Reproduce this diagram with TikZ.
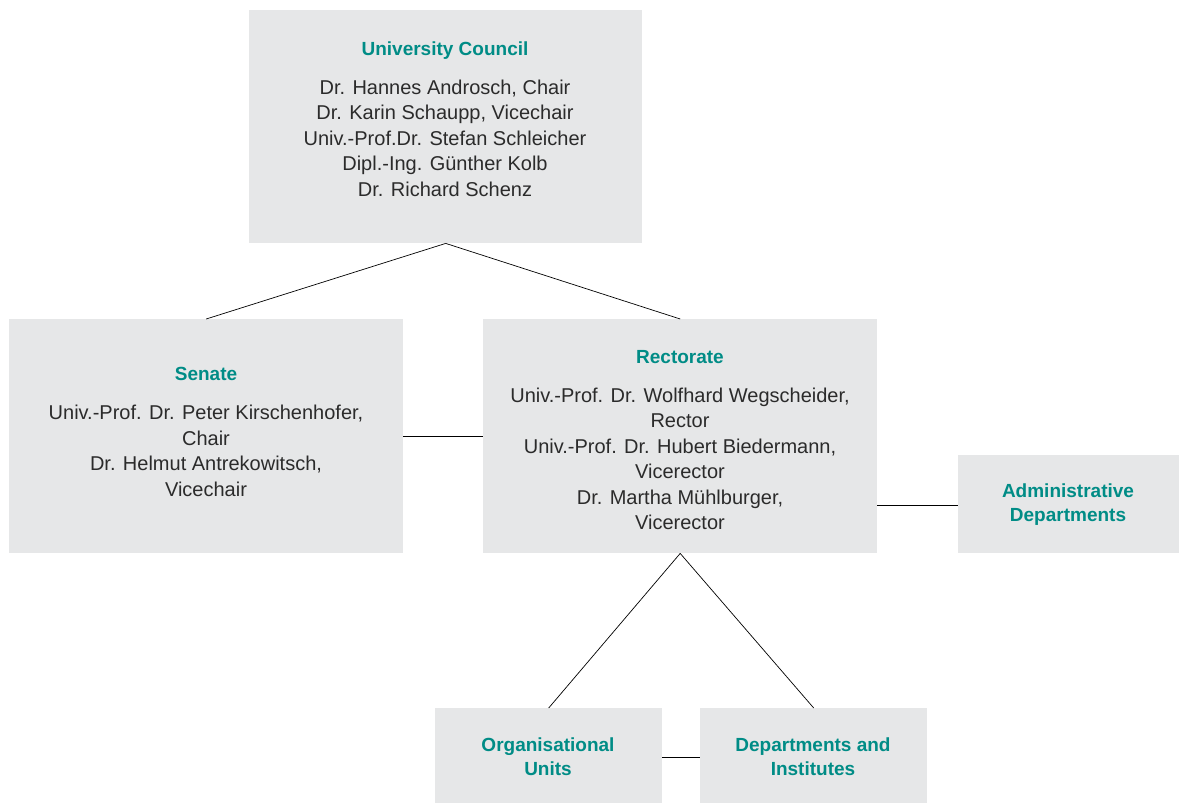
\documentclass[tikz,border=0pt]{standalone}
\usepackage{fontspec}
\setmainfont{Liberation Sans}
\definecolor{boxgray}{HTML}{E6E7E8}
\definecolor{teal}{HTML}{008C86}
\definecolor{bodytext}{HTML}{2B2B2B}
\begin{document}
\begin{tikzpicture}[x=1pt,y=-1pt,
  box/.style={fill=boxgray,draw=none,inner sep=0pt,anchor=north west},
  txt/.style={align=center,text=bodytext,font=\fontsize{20}{25.5}\selectfont,inner sep=0pt},
  ttxt/.style={align=center,text=teal,font=\fontsize{19}{24}\selectfont\bfseries,inner sep=0pt},
  conn/.style={draw=black,line width=0.7pt}]
\useasboundingbox (0,0) rectangle (1179,803);
% boxes
\node[box,minimum width=393pt,minimum height=233pt] (uc) at (249,10) {};
\node[box,minimum width=394pt,minimum height=234pt] (sen) at (9,319) {};
\node[box,minimum width=394pt,minimum height=234pt] (rec) at (483,319) {};
\node[box,minimum width=221pt,minimum height=98pt] (adm) at (958,455) {};
\node[box,minimum width=227pt,minimum height=95pt] (org) at (435,708) {};
\node[box,minimum width=227pt,minimum height=95pt] (dep) at (700,708) {};
% texts
\newcommand{\ttl}[1]{{\fontsize{19}{25.5}\selectfont\bfseries\color{teal}#1}}
\node[txt] (uct) at (445,119) {\ttl{University Council}\\[13.5pt]
  Dr. Hannes Androsch, Chair\\
  Dr. Karin Schaupp, Vicechair\\
  Univ.-Prof.Dr. Stefan Schleicher\\
  Dipl.-Ing. Günther Kolb\\
  Dr. Richard Schenz};
\node[txt] (sent) at (206,432) {\ttl{Senate}\\[13.5pt]
  Univ.-Prof. Dr. Peter Kirschenhofer,\\
  Chair\\
  Dr. Helmut Antrekowitsch,\\
  Vicechair};
\node[txt] (rect) at (680,440) {\ttl{Rectorate}\\[13.5pt]
  Univ.-Prof. Dr. Wolfhard Wegscheider,\\
  Rector\\
  Univ.-Prof. Dr. Hubert Biedermann,\\
  Vicerector\\
  Dr. Martha Mühlburger,\\
  Vicerector};
\node[ttxt] (admt) at (1068,505) {Administrative\\ Departments};
\node[ttxt] (orgt) at (548,757) {Organisational\\ Units};
\node[ttxt] (dept) at (813,757) {Departments and\\ Institutes};
% connectors
\coordinate (ucb) at (uc.south);
\draw[conn] (ucb) -- (sen.north);
\draw[conn] (ucb) -- (rec.north);
\draw[conn] (sen.east |- 0,436) -- (rec.west |- 0,436);
\draw[conn] (rec.east |- 0,505) -- (adm.west |- 0,505);
\draw[conn] (rec.south) -- (org.north);
\draw[conn] (rec.south) -- (dep.north);
\draw[conn] (org.east |- 0,757) -- (dep.west |- 0,757);
\end{tikzpicture}
\end{document}
